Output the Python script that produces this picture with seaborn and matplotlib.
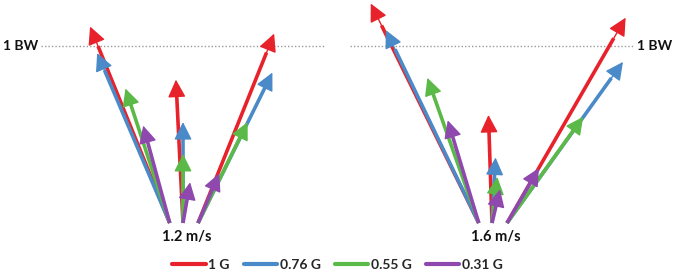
import numpy as np
import pandas as pd
import matplotlib
matplotlib.use('Agg')
import matplotlib.pyplot as plt
import seaborn as sns
from matplotlib.lines import Line2D

# ground reaction force vectors, in body weights (horizontal, vertical)
speeds = ['1.2 m/s', '1.6 m/s']
gravity = ['1 G', '0.76 G', '0.55 G', '0.31 G']
phases = ['braking', 'midstance', 'propulsion']

# 1.2 m/s
fx_12_braking = [-0.45, -0.41, -0.25, -0.15]
fz_12_braking = [1.11, 0.96, 0.76, 0.55]
fx_12_mid = [-0.04, 0.0, 0.0, 0.04]
fz_12_mid = [0.81, 0.57, 0.39, 0.23]
fx_12_prop = [0.43, 0.42, 0.28, 0.12]
fz_12_prop = [1.07, 0.85, 0.57, 0.28]

# 1.6 m/s
fx_16_braking = [-0.61, -0.525, -0.29, -0.175]
fz_16_braking = [1.24, 1.09, 0.82, 0.58]
fx_16_mid = [-0.02, 0.02, 0.03, 0.045]
fz_16_mid = [0.61, 0.37, 0.26, 0.19]
fx_16_prop = [0.67, 0.655, 0.43, 0.18]
fz_16_prop = [1.16, 0.91, 0.60, 0.31]

colors = ['#E8222A', '#4A8AC8', '#5BB947', '#8E48AE']
palette = dict(zip(gravity, colors))

data = {
    '1.2 m/s': {'braking': (fx_12_braking, fz_12_braking),
                'midstance': (fx_12_mid, fz_12_mid),
                'propulsion': (fx_12_prop, fz_12_prop)},
    '1.6 m/s': {'braking': (fx_16_braking, fz_16_braking),
                'midstance': (fx_16_mid, fz_16_mid),
                'propulsion': (fx_16_prop, fz_16_prop)},
}
origin_shift = {'braking': -0.075, 'midstance': 0.0, 'propulsion': 0.085}

sns.set_theme(style='white')
plt.rcParams['font.family'] = ['Lato', 'DejaVu Sans']
plt.rcParams['font.weight'] = 'bold'

fig = plt.figure(figsize=(6.75, 2.74), dpi=100)
W, H = 675, 274
px = 177.0  # pixels per BW

# axes in pixel rects: (left, right) and the x of the origin
panels = [(0, 337, 183), (337, 675, 492)]
ytop, ybot, y0 = 0, 245, 223

for (l, r, ox), speed in zip(panels, speeds):
    ax = fig.add_axes([l / W, (H - ybot) / H, (r - l) / W, (ybot - ytop) / H])
    ax.set_xlim(-(ox - l) / px, (r - ox) / px)
    ax.set_ylim(-(ybot - y0) / px, (y0 - ytop) / px)
    ax.axis('off')

    rows = []
    for ph in phases:
        fx, fz = data[speed][ph]
        x0 = origin_shift[ph]
        for g, dx, dz in zip(gravity, fx, fz):
            seg = f'{ph}-{g}'
            rows.append({'x': x0, 'y': 0.0, 'g': g, 'seg': seg})
            # shaft stops inside the head
            rows.append({'x': x0 + 0.9 * dx, 'y': 0.9 * dz, 'g': g, 'seg': seg})
    df = pd.DataFrame(rows)

    ax.plot([-0.8, 0.8], [1, 1], ls=(0, (1, 1.5)), color='#9a9a9a', lw=1.0)

    sns.lineplot(data=df, x='x', y='y', hue='g', units='seg', estimator=None,
                 sort=False, palette=palette, hue_order=gravity, lw=2.6,
                 legend=False, ax=ax, solid_capstyle='butt')

    for ph in phases:
        fx, fz = data[speed][ph]
        x0 = origin_shift[ph]
        for g, dx, dz in zip(gravity, fx, fz):
            ax.annotate('', xy=(x0 + dx, dz), xytext=(x0 + 0.85 * dx, 0.85 * dz),
                        arrowprops=dict(arrowstyle='-|>,head_length=1.0,head_width=0.5',
                                        mutation_scale=11, color=palette[g],
                                        lw=1.0, shrinkA=0, shrinkB=0))

    ax.text(0.02, -0.08, speed, ha='center', va='center', fontsize=10.5,
            fontweight='bold', color='#111111')

    if l == 0:
        ax.text(-0.82, 1.0, '1 BW', ha='right', va='center', fontsize=10,
                fontweight='bold', color='#111111')
    else:
        ax.text(0.82, 1.0, '1 BW', ha='left', va='center', fontsize=10,
                fontweight='bold', color='#111111')

handles = [Line2D([0], [0], color=palette[g], lw=3) for g in gravity]
fig.legend(handles, gravity, loc='center', bbox_to_anchor=(0.5, 9 / H), ncol=4,
           frameon=False, handlelength=2.4, handletextpad=0.2, columnspacing=1.0,
           prop={'size': 10, 'weight': 'bold'})

fig.savefig('out.png', dpi=100)
